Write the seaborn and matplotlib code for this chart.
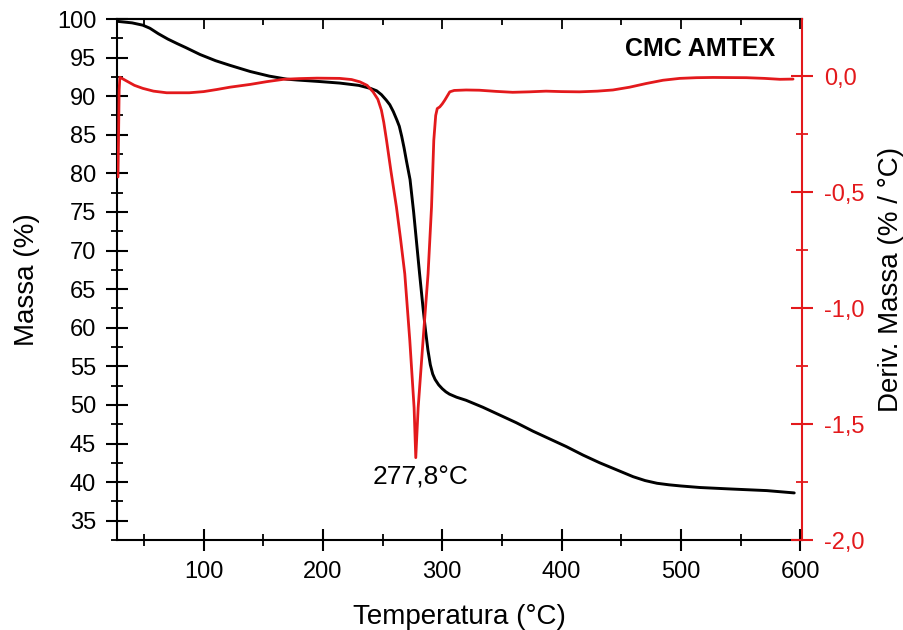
import numpy as np
import pandas as pd
import matplotlib
matplotlib.use("Agg")
import matplotlib.pyplot as plt
from matplotlib.ticker import MultipleLocator, FuncFormatter
import seaborn as sns

# ---- data ----
tg_temp = [27.5, 40, 49, 55, 62, 70, 78, 85, 97, 110, 122, 139, 155, 170, 178, 197, 214,
           230, 240, 245, 249, 253, 256, 259, 262, 264, 266, 268, 270, 273, 276, 278,
           281, 284, 286, 288, 290, 292, 294, 297, 300, 303, 306, 312, 320, 334, 348,
           362, 376, 390, 404, 418, 432, 446, 460, 470, 480, 490, 500, 516, 543, 572, 595]
tg_mass = [99.7, 99.5, 99.2, 98.8, 98.1, 97.4, 96.8, 96.3, 95.4, 94.6, 94.0, 93.2, 92.6,
           92.2, 92.1, 91.9, 91.7, 91.4, 91.0, 90.7, 90.2, 89.5, 88.9, 88.0, 86.9, 86.1,
           84.8, 83.3, 81.6, 79.2, 75.0, 71.8, 67.0, 62.4, 59.6, 57.1, 55.2, 54.0, 53.3,
           52.6, 52.1, 51.7, 51.4, 51.0, 50.6, 49.7, 48.7, 47.7, 46.6, 45.6, 44.6, 43.5,
           42.5, 41.6, 40.7, 40.2, 39.85, 39.65, 39.5, 39.3, 39.1, 38.9, 38.6]

dtg_temp = [28.2, 28.6, 29.2, 29.8, 35, 42, 49, 58, 69, 88, 100, 111, 122, 139, 153, 167,
            180, 195, 214, 224, 231, 237, 242, 246, 249, 251, 253.3, 257, 261.6, 265,
            268.6, 272.8, 276.4, 277.8, 279.8, 283.9, 288.1, 291, 292.9, 294.5, 295.8,
            297.9, 300, 302.1, 306.3, 310, 320, 331, 345, 359, 373, 387, 400, 415, 430,
            443, 457, 471, 485, 499, 513, 527, 555, 570, 583, 594]
dtg_deriv = [-0.435, -0.30, -0.06, -0.005, -0.02, -0.04, -0.053, -0.065, -0.072, -0.072,
             -0.067, -0.058, -0.048, -0.036, -0.024, -0.014, -0.011, -0.009, -0.010,
             -0.015, -0.025, -0.04, -0.068, -0.10, -0.147, -0.20, -0.277, -0.41, -0.565,
             -0.70, -0.853, -1.14, -1.43, -1.645, -1.43, -1.14, -0.853, -0.565, -0.277,
             -0.17, -0.14, -0.133, -0.12, -0.104, -0.068, -0.062, -0.06, -0.061, -0.066,
             -0.07, -0.068, -0.065, -0.067, -0.068, -0.065, -0.06, -0.048, -0.032,
             -0.018, -0.01, -0.007, -0.006, -0.007, -0.010, -0.014, -0.013]

peak_label = "277,8°C"
sample_label = "CMC AMTEX"
xlabel = "Temperatura (°C)"
ylabel_left = "Massa (%)"
ylabel_right = "Deriv. Massa (% / °C)"

RED = "#e3191c"

sns.set_style("ticks")
plt.rcParams["font.family"] = ["Liberation Sans", "DejaVu Sans"]
plt.rcParams.update({
    "axes.linewidth": 1.5,
    "text.color": "black",
    "axes.labelcolor": "black",
    "axes.edgecolor": "black",
    "xtick.color": "black",
    "ytick.color": "black",
})

fig = plt.figure(figsize=(9.04, 6.3), dpi=100)
ax = fig.add_axes([117 / 904, 90 / 630, 685 / 904, 521 / 630])

tg = pd.DataFrame({"T": tg_temp, "M": tg_mass})
dtg = pd.DataFrame({"T": dtg_temp, "D": dtg_deriv})

sns.lineplot(data=tg, x="T", y="M", ax=ax, color="black", linewidth=2.1,
             estimator=None, sort=False)

ax.set_xlim(27.4, 601.5)
ax.set_ylim(32.5, 100)
ax.xaxis.set_major_locator(MultipleLocator(100))
ax.xaxis.set_minor_locator(MultipleLocator(50))
ax.yaxis.set_major_locator(MultipleLocator(5))
ax.yaxis.set_minor_locator(MultipleLocator(2.5))
ax.tick_params(axis="both", which="major", direction="inout", length=16, width=1.5,
               labelsize=17, pad=7, colors="black")
ax.tick_params(axis="both", which="minor", direction="inout", length=9, width=1.3,
               colors="black")
ax.tick_params(axis="x", top=False)
ax.spines["right"].set_visible(False)
ax.set_xlabel(xlabel, fontsize=20, labelpad=15, color="black")
ax.set_ylabel(ylabel_left, fontsize=20, color="black")
ax.yaxis.set_label_coords(-0.112, 0.5)

# top ticks (inward only)
sec = ax.secondary_xaxis("top")
sec.xaxis.set_major_locator(MultipleLocator(100))
sec.xaxis.set_minor_locator(MultipleLocator(50))
sec.tick_params(which="major", direction="in", length=7, width=1.3, labeltop=False,
                colors="black")
sec.tick_params(which="minor", direction="in", length=4.5, width=1.3, colors="black")

ax2 = ax.twinx()
sns.lineplot(data=dtg, x="T", y="D", ax=ax2, color=RED, linewidth=2.0,
             estimator=None, sort=False)
ax2.set_ylim(-2.0, 0.246)
ax2.yaxis.set_major_locator(MultipleLocator(0.5))
ax2.yaxis.set_minor_locator(MultipleLocator(0.25))
ax2.yaxis.set_major_formatter(FuncFormatter(lambda v, p: f"{v:.1f}".replace(".", ",")))
ax2.tick_params(axis="y", which="major", direction="inout", length=16, width=1.5,
                labelsize=17, pad=8, colors=RED, labelcolor=RED)
ax2.tick_params(axis="y", which="minor", direction="inout", length=9, width=1.3, colors=RED)
ax2.spines["right"].set_color(RED)
ax2.spines["right"].set_linewidth(1.5)
for s in ("left", "top", "bottom"):
    ax2.spines[s].set_visible(False)
ax2.set_xlabel("")
ax2.set_ylabel(ylabel_right, fontsize=20, color="black")
ax2.yaxis.set_label_coords(1.111, 0.5)

ax.text(281.8, 40.6, peak_label, fontsize=19, ha="center", va="center", color="black")
ax.text(0.9606, 0.943, sample_label, fontsize=18, fontweight="bold", ha="right",
        va="center", transform=ax.transAxes, color="black")

fig.savefig("out.png", dpi=100)
